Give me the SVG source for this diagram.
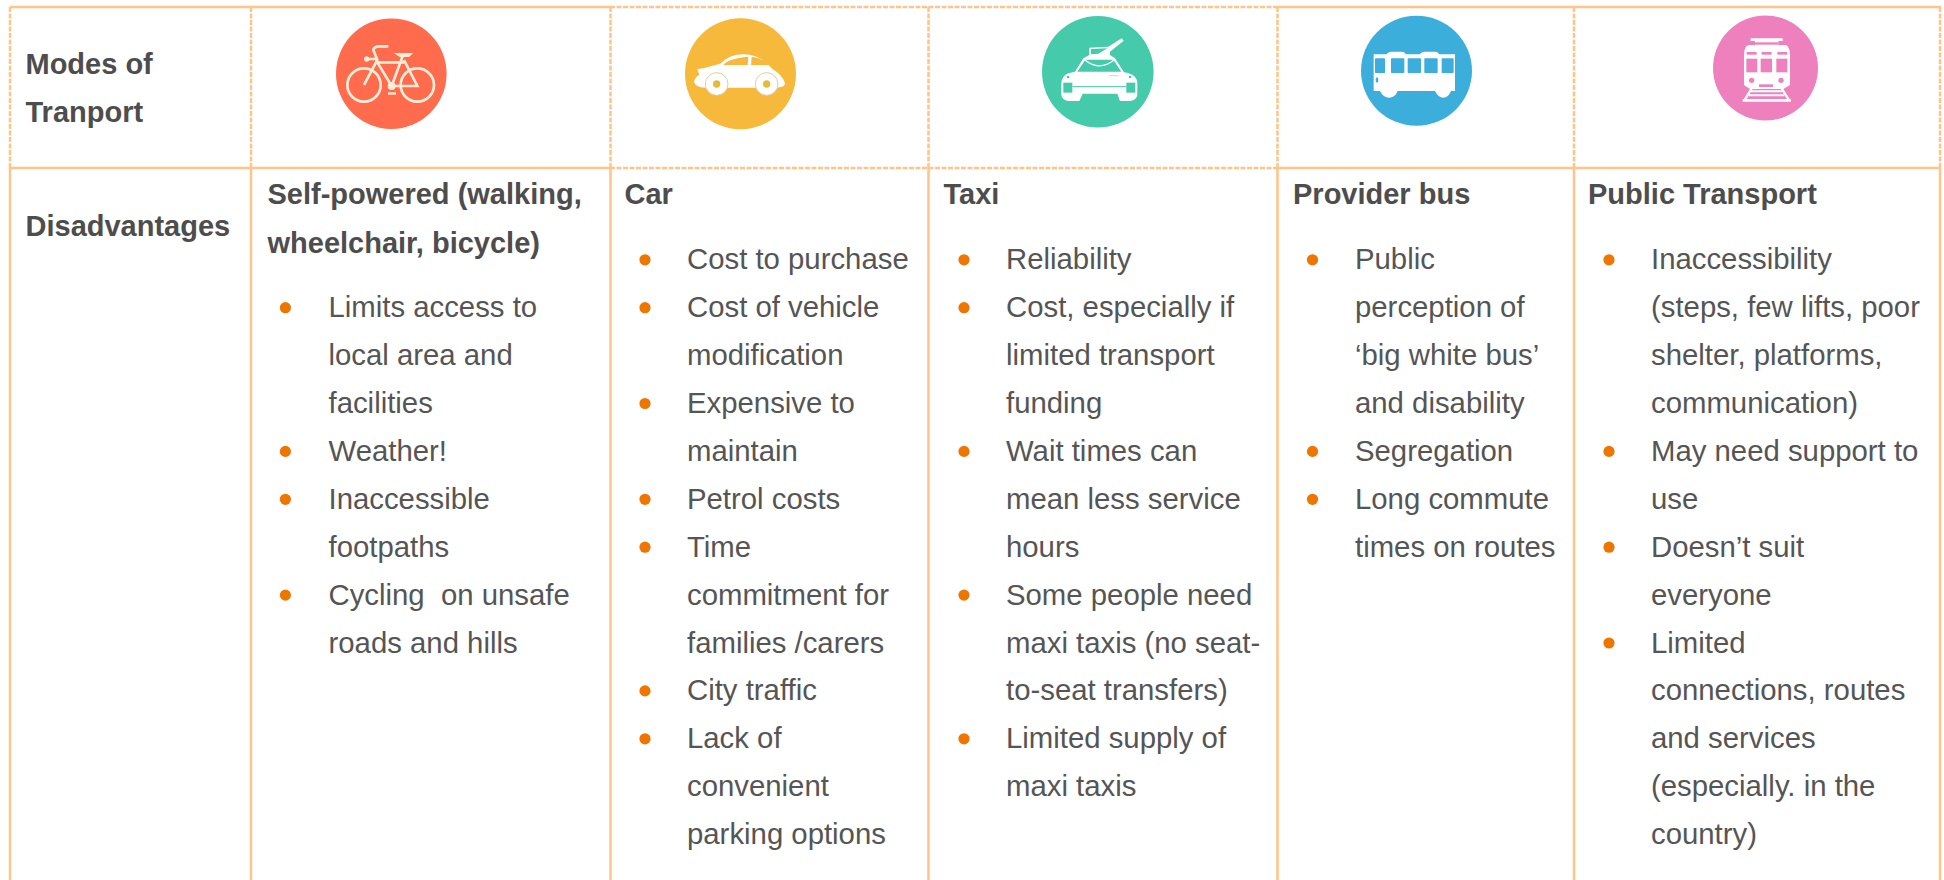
<svg xmlns="http://www.w3.org/2000/svg" width="1944" height="880" viewBox="0 0 1944 880">
<defs><filter id="soft" x="-5%" y="-5%" width="110%" height="110%"><feGaussianBlur stdDeviation="1.500"/></filter></defs>
<style>
text{font-family:"Liberation Sans",Arial,sans-serif;font-size:29.33px;white-space:pre}
.h{font-weight:bold;fill:#4d4d4d;font-size:29px}
.t{fill:#555}
.b{fill:#ee7600}
.s{stroke:#ffc488;stroke-width:2.5;fill:none}
.d{stroke:#ffc488;stroke-width:2.5;fill:none;stroke-dasharray:5 1.500}
.w{fill:#fff}
</style>
<rect width="1944" height="880" fill="#fff"/>
<g id="grid">
<path class="s" d="M10 7H610M1278 7H1941M10 168H610M1278 168H1941M10 168V880M251 168V880M610.500 168V880M928.500 168V880M1277.500 168V880M1574 168V880M1940 168V880"/>
<path class="d" d="M610 7H1278M610 168H1278M10 7V168M251 7V168M610.500 7V168M928.500 7V168M1277.500 7V168M1574 7V168M1940 7V168"/>
</g>
<g id="row-labels">
<text class="h" x="25.500" y="74">Modes of</text>
<text class="h" x="25.500" y="122">Tranport</text>
<text class="h" x="25.500" y="236">Disadvantages</text>
</g>
<g id="icon-bicycle">
<circle cx="391.300" cy="73.700" r="55.300" fill="#fe6b4d"/>
<g transform="translate(320 5) scale(.3333)" fill="none" stroke="#ffedd8" stroke-width="8" filter="url(#soft)">
<circle cx="132" cy="240" r="50"/><circle cx="292" cy="240" r="50"/>
<path d="M132 240L172 165L160 135Q162 124 178 124H205M140 162H170M172 172H252M215 243L172 172M215 243L250 148M215 243H292L252 165"/>
<path d="M228 146H275L266 154H240Z" fill="#ffedd8" stroke-width="4"/>
<circle cx="140" cy="162" r="8" fill="#ffedd8" stroke="none"/>
<circle cx="215" cy="243" r="12" fill="#ffedd8" stroke="none"/>
<rect x="204" y="262" width="24" height="7" fill="#ffedd8" stroke="none"/>
</g>
</g>
<g id="icon-car">
<circle cx="740.500" cy="73.700" r="55.500" fill="#f6b93c"/>
<g transform="translate(670 5) scale(.3333)" filter="url(#soft)">
<path class="w" d="M72 232Q75 215 88 210L82 192L100 190L150 176Q180 148 220 148Q270 148 305 190L325 205Q345 225 345 238Q340 248 320 248H110Q80 250 72 232Z"/>
<path fill="#f6b93c" d="M160 180Q175 160 235 155L233 180ZM245 156Q275 158 298 180H243Z"/>
<circle cx="140" cy="237" r="34" fill="#fff" stroke="#d9cfa8" stroke-width="3"/>
<circle cx="290" cy="237" r="34" fill="#fff" stroke="#d9cfa8" stroke-width="3"/>
<circle cx="140" cy="237" r="11" fill="#e4bb3e"/><circle cx="290" cy="237" r="11" fill="#e4bb3e"/>
</g>
</g>
<g id="icon-taxi">
<circle cx="1097.800" cy="71.800" r="55.800" fill="#45cbab"/>
<g transform="translate(1030 5) scale(.3333)" filter="url(#soft)">
<path class="w" d="M94 235Q96 212 115 205L135 200L160 160L178 150V128L235 125L275 100L281 107L240 140V150L255 160L282 202Q322 208 322 235V270Q320 285 300 288H270L262 266H158L148 288H115Q96 285 94 270Z"/>
<path fill="#45cbab" d="M142 200L166 164H250L274 200ZM183 148V132L232 130L205 146Z"/>
<path d="M165 165Q208 200 252 165" fill="none" stroke="#fff" stroke-width="4"/>
<rect x="100" y="233" width="27" height="30" fill="#45cbab"/>
<rect x="289" y="233" width="27" height="30" fill="#45cbab"/>
<path d="M127 245H289" stroke="#45cbab" stroke-width="3"/>
<circle cx="114" cy="216" r="4" fill="#45cbab"/><circle cx="300" cy="216" r="4" fill="#45cbab"/>
<path d="M238 212H265" stroke="#a6e5d4" stroke-width="3"/>
</g>
</g>
<g id="icon-bus">
<ellipse cx="1416.500" cy="70.800" rx="55.500" ry="55" fill="#3caedb"/>
<g transform="translate(1345 5) scale(.3333)" filter="url(#soft)">
<path class="w" d="M86 148H125Q128 140 140 140H170Q180 140 182 148H225Q228 140 240 140H270Q280 140 282 148H330V258H318Q310 278 295 278Q280 278 270 258H158Q150 278 132 278Q115 278 105 258H86Z"/>
<g fill="#3caedb">
<rect x="90" y="160" width="30" height="44" rx="2"/><rect x="138" y="160" width="40" height="44" rx="2"/><rect x="188" y="160" width="40" height="44" rx="2"/><rect x="238" y="160" width="40" height="44" rx="2"/><rect x="290" y="160" width="36" height="44" rx="2"/>
<ellipse cx="96" cy="225" rx="4" ry="8"/>
</g>
</g>
</g>
<g id="icon-tram">
<circle cx="1765.500" cy="68" r="52.500" fill="#ee80bd"/>
<g transform="translate(1695 5) scale(.3333)" filter="url(#soft)">
<path class="w" d="M167 100H263V108H250V120H272Q285 125 285 150V240L265 252H165L147 240V150Q147 125 160 120H180V108H167Z"/>
<path d="M170 250L148 287M260 250L283 287" stroke="#fff" stroke-width="7" fill="none"/>
<path class="w" d="M168 256H262V262H168ZM162 268H268V274H162ZM143 282H288V290H143Z"/>
<g fill="#ee80bd">
<rect x="180" y="112" width="70" height="7"/>
<rect x="155" y="141" width="30" height="8"/><rect x="200" y="141" width="30" height="8"/><rect x="247" y="141" width="30" height="8"/>
<rect x="154" y="161" width="33" height="41"/><rect x="197" y="161" width="34" height="41"/><rect x="244" y="161" width="33" height="41"/>
<circle cx="170" cy="226" r="8"/><circle cx="258" cy="226" r="8"/>
<rect x="192" y="238" width="42" height="8"/>
</g>
</g>
</g>
<g id="col-self">
<text class="h" x="267.500" y="204">Self-powered (walking,</text>
<text class="h" x="267.500" y="252.700">wheelchair, bicycle)</text>
<text class="t" x="328.500" y="317.200">Limits access to</text>
<text class="t" x="328.500" y="365.100">local area and</text>
<text class="t" x="328.500" y="413">facilities</text>
<text class="t" x="328.500" y="460.900">Weather!</text>
<text class="t" x="328.500" y="508.800">Inaccessible</text>
<text class="t" x="328.500" y="556.700">footpaths</text>
<text class="t" x="328.500" y="604.600">Cycling  on unsafe</text>
<text class="t" x="328.500" y="652.500">roads and hills</text>
<g class="b"><circle cx="285.400" cy="307.700" r="5.600"/><circle cx="285.400" cy="451.400" r="5.600"/><circle cx="285.400" cy="499.300" r="5.600"/><circle cx="285.400" cy="595.100" r="5.600"/></g>
</g>
<g id="col-car">
<text class="h" x="624.500" y="204">Car</text>
<text class="t" x="687" y="269.300">Cost to purchase</text>
<text class="t" x="687" y="317.200">Cost of vehicle</text>
<text class="t" x="687" y="365.100">modification</text>
<text class="t" x="687" y="413">Expensive to</text>
<text class="t" x="687" y="460.900">maintain</text>
<text class="t" x="687" y="508.800">Petrol costs</text>
<text class="t" x="687" y="556.700">Time</text>
<text class="t" x="687" y="604.600">commitment for</text>
<text class="t" x="687" y="652.500">families /carers</text>
<text class="t" x="687" y="700.400">City traffic</text>
<text class="t" x="687" y="748.300">Lack of</text>
<text class="t" x="687" y="796.200">convenient</text>
<text class="t" x="687" y="844.100">parking options</text>
<g class="b"><circle cx="645" cy="259.800" r="5.600"/><circle cx="645" cy="307.700" r="5.600"/><circle cx="645" cy="403.500" r="5.600"/><circle cx="645" cy="499.300" r="5.600"/><circle cx="645" cy="547.200" r="5.600"/><circle cx="645" cy="690.900" r="5.600"/><circle cx="645" cy="738.800" r="5.600"/></g>
</g>
<g id="col-taxi">
<text class="h" x="943.500" y="204">Taxi</text>
<text class="t" x="1006" y="269.300">Reliability</text>
<text class="t" x="1006" y="317.200">Cost, especially if</text>
<text class="t" x="1006" y="365.100">limited transport</text>
<text class="t" x="1006" y="413">funding</text>
<text class="t" x="1006" y="460.900">Wait times can</text>
<text class="t" x="1006" y="508.800">mean less service</text>
<text class="t" x="1006" y="556.700">hours</text>
<text class="t" x="1006" y="604.600">Some people need</text>
<text class="t" x="1006" y="652.500">maxi taxis (no seat-</text>
<text class="t" x="1006" y="700.400">to-seat transfers)</text>
<text class="t" x="1006" y="748.300">Limited supply of</text>
<text class="t" x="1006" y="796.200">maxi taxis</text>
<g class="b"><circle cx="964" cy="259.800" r="5.600"/><circle cx="964" cy="307.700" r="5.600"/><circle cx="964" cy="451.400" r="5.600"/><circle cx="964" cy="595.100" r="5.600"/><circle cx="964" cy="738.800" r="5.600"/></g>
</g>
<g id="col-bus">
<text class="h" x="1293" y="204">Provider bus</text>
<text class="t" x="1355" y="269.300">Public</text>
<text class="t" x="1355" y="317.200">perception of</text>
<text class="t" x="1355" y="365.100">‘big white bus’</text>
<text class="t" x="1355" y="413">and disability</text>
<text class="t" x="1355" y="460.900">Segregation</text>
<text class="t" x="1355" y="508.800">Long commute</text>
<text class="t" x="1355" y="556.700">times on routes</text>
<g class="b"><circle cx="1312.500" cy="259.800" r="5.600"/><circle cx="1312.500" cy="451.400" r="5.600"/><circle cx="1312.500" cy="499.300" r="5.600"/></g>
</g>
<g id="col-public">
<text class="h" x="1588" y="204">Public Transport</text>
<text class="t" x="1651" y="269.300">Inaccessibility</text>
<text class="t" x="1651" y="317.200">(steps, few lifts, poor</text>
<text class="t" x="1651" y="365.100">shelter, platforms,</text>
<text class="t" x="1651" y="413">communication)</text>
<text class="t" x="1651" y="460.900">May need support to</text>
<text class="t" x="1651" y="508.800">use</text>
<text class="t" x="1651" y="556.700">Doesn’t suit</text>
<text class="t" x="1651" y="604.600">everyone</text>
<text class="t" x="1651" y="652.500">Limited</text>
<text class="t" x="1651" y="700.400">connections, routes</text>
<text class="t" x="1651" y="748.300">and services</text>
<text class="t" x="1651" y="796.200">(especially. in the</text>
<text class="t" x="1651" y="844.100">country)</text>
<g class="b"><circle cx="1609" cy="259.800" r="5.600"/><circle cx="1609" cy="451.400" r="5.600"/><circle cx="1609" cy="547.200" r="5.600"/><circle cx="1609" cy="643" r="5.600"/></g>
</g>
</svg>
